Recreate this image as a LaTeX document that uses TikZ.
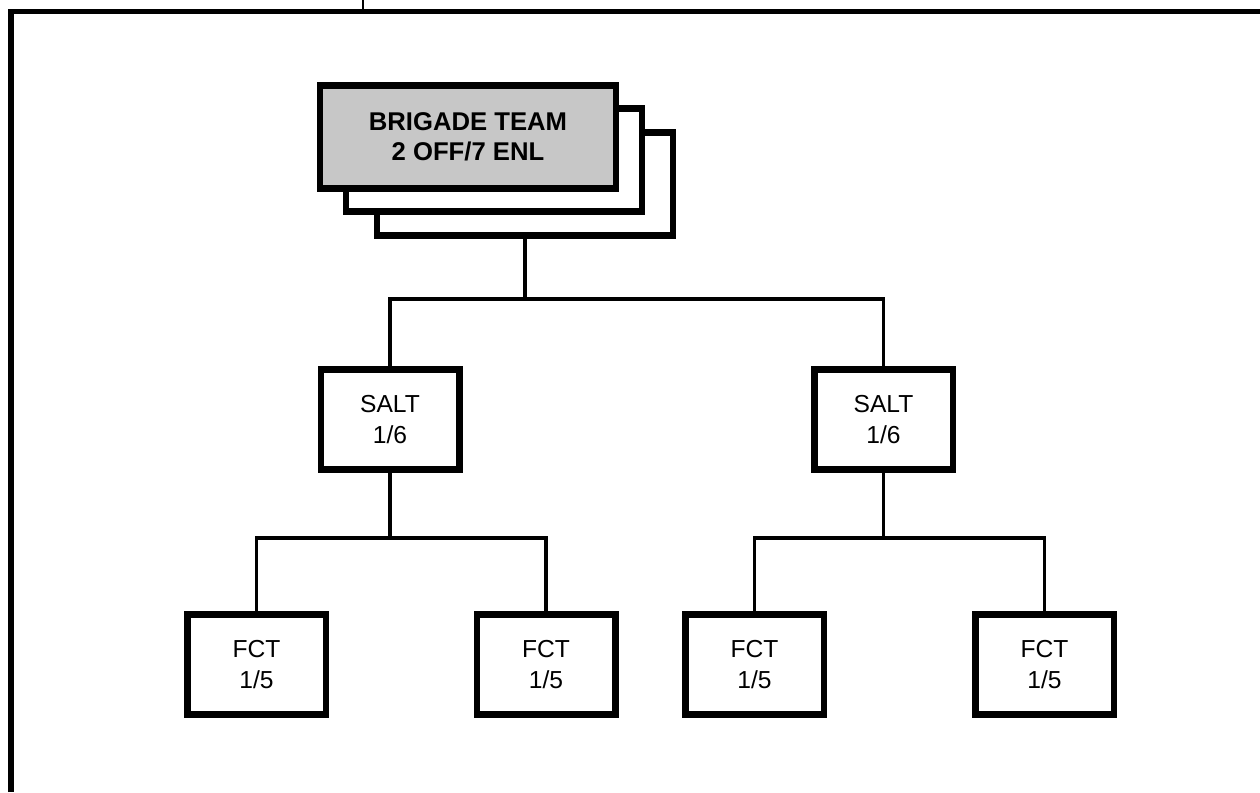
\documentclass[tikz,border=0pt]{standalone}
\usepackage{fontspec}
\setmainfont{Liberation Sans}
\usetikzlibrary{positioning,calc}
\tikzset{
    block/.style = {
        draw,
        shape=rectangle,
        minimum height=2cm,
        minimum width=2.77cm,
        line width=3.7pt,
        fill=white,
        align=center,
        font=\fontsize{14}{17.5}\selectfont
    },
    team/.style = {
        draw,
        shape=rectangle,
        minimum height=2.06cm,
        minimum width=5.92cm,
        line width=3.7pt,
        fill=white,
        align=center,
        font=\bfseries\fontsize{14.6}{17}\selectfont
    },
    link/.style = {
        draw,
        line width=1.9pt
    },
    frame/.style = {
        draw,
        line width=3.4pt
    },
}

\begin{document}
\begin{tikzpicture}
            \useasboundingbox (0,0) rectangle (25.2,15.84);
            \path[frame] (0.22,0) -- (0.22,15.61) -- (25.2,15.61);
            \path[draw, line width=0.8pt] (7.26,15.61) -- (7.26,15.84);

            \node[team] (teamc) at (10.50, 12.16) {};
            \node[team] (teamb) at (9.88, 12.64) {};
            \node[team, fill=black!22] (teama) at (9.36, 13.10) {BRIGADE TEAM\\2 OFF/7 ENL};

            \node[block] (saltl) at (7.80, 7.45) {SALT\\1/6};
            \node[block] (saltr) at (17.67, 7.45) {SALT\\1/6};

            \node[block] (fctll) at (5.13, 2.55) {FCT\\1/5};
            \node[block] (fctlr) at (10.92, 2.55) {FCT\\1/5};
            \node[block] (fctrl) at (15.09, 2.55) {FCT\\1/5};
            \node[block] (fctrr) at (20.89, 2.55) {FCT\\1/5};

            \coordinate (bartop) at (10.50, 9.86);
            \coordinate (barl) at (7.80, 5.08);
            \coordinate (barr) at (17.67, 5.08);

            \path[link] (teamc.south) -- (bartop);
            \path[link] (saltl.north) |- (bartop) -| (saltr.north);
            \path[link] (saltl.south) -- (barl);
            \path[link] (fctll.north) |- (barl) -| (fctlr.north);
            \path[link] (saltr.south) -- (barr);
            \path[link] (fctrl.north) |- (barr) -| (fctrr.north);
        \end{tikzpicture}
\end{document}
